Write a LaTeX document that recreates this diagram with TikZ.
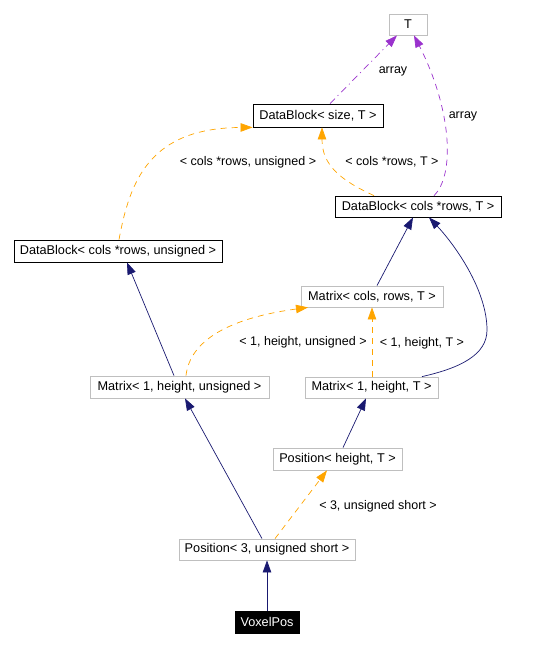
\documentclass[tikz,border=0pt]{standalone}
\usepackage{fontspec}
\setmainfont{Liberation Sans}
\usetikzlibrary{arrows.meta}
\definecolor{navyc}{HTML}{191970}
\definecolor{orangec}{HTML}{FFA500}
\definecolor{purplec}{HTML}{9A32CD}
\definecolor{greyc}{HTML}{BFBFBF}
\tikzset{
  box/.style={draw=greyc, line width=0.8pt, inner sep=0pt, fill=white, text=black, font=\fontsize{12.7}{14}\selectfont},
  blackbox/.style={box, draw=black},
  filledbox/.style={box, draw=black, fill=black, text=white},
  lbl/.style={font=\fontsize{12.5}{14}\selectfont, inner sep=0pt, text=black},
  tip/.style={-{Triangle[length=12pt,width=8.5pt]}},
  inherit/.style={tip, draw=navyc, line width=0.7pt},
  templ/.style={tip, draw=orangec, line width=0.7pt, dash pattern=on 6pt off 5pt},
  usage/.style={tip, draw=purplec, line width=0.7pt},
}
\begin{document}
\begin{tikzpicture}[x=1pt,y=-1pt]
\useasboundingbox (0,0) rectangle (536,646);
\node[box, minimum width=38pt, minimum height=21pt] (T) at (408,24.5) {T};
\node[blackbox, minimum width=130pt, minimum height=23pt] (dbs) at (318,115.5) {DataBlock< size, T >};
\node[blackbox, minimum width=166pt, minimum height=21pt] (dbt) at (418,206.5) {DataBlock< cols *rows, T >};
\node[blackbox, minimum width=208pt, minimum height=22pt] (dbu) at (118,251) {DataBlock< cols *rows, unsigned >};
\node[box, minimum width=142pt, minimum height=21pt] (mcr) at (372,296.5) {Matrix< cols, rows, T >};
\node[box, minimum width=179pt, minimum height=22pt] (m1u) at (179.5,387) {Matrix< 1, height, unsigned >};
\node[box, minimum width=133pt, minimum height=21pt] (m1t) at (371.5,387.5) {Matrix< 1, height, T >};
\node[box, minimum width=129pt, minimum height=22pt] (pht) at (337.5,459) {Position< height, T >};
\node[box, minimum width=176pt, minimum height=21pt] (p3) at (267,549.5) {Position< 3, unsigned short >};
\node[filledbox, minimum width=64pt, minimum height=22pt] (vox) at (267,622) {VoxelPos};

% inheritance
\draw[inherit] (vox.north) -- (p3.south);
\draw[inherit] ([xshift=-5pt]p3.north) -- ([xshift=5.5pt]m1u.south);
\draw[inherit] ([xshift=5.5pt]pht.north) -- ([xshift=-5.5pt]m1t.south);
\draw[inherit] ([xshift=5pt]mcr.north) -- ([xshift=-5pt]dbt.south);
\draw[inherit] ([xshift=-5.5pt]m1u.north) -- ([xshift=9pt]dbu.south);
\draw[inherit] ([xshift=50.5pt]m1t.north) .. controls (460,368) and (487,355) .. (487,330)
   .. controls (487,290) and (455,245) .. ([xshift=11pt]dbt.south);

% template instances
\draw[templ] ([xshift=8pt]p3.north) -- ([xshift=-10.5pt]pht.south);
\node[lbl] (l3u) at (378,506) {< 3, unsigned short >};
\draw[templ] (m1t.north -| mcr.south) -- (mcr.south);
\node[lbl] (l1t) at (422,343) {< 1, height, T >};
\draw[templ] ([xshift=6.5pt]m1u.north) .. controls (190,340) and (230,318) .. ([xshift=-64pt]mcr.south);
\node[lbl] (l1u) at (303,342) {< 1, height, unsigned >};
\draw[templ] ([xshift=1pt]dbu.north) .. controls (130,180) and (150,128) .. (dbs.south west);
\node[lbl] (lcu) at (248,162) {< cols *rows, unsigned >};
\draw[templ] ([xshift=-44pt]dbt.north) .. controls (340,180) and (322,165) .. ([xshift=4pt]dbs.south);
\node[lbl] (lct) at (392,162) {< cols *rows, T >};

% usage
\draw[usage, dash pattern=on 7pt off 4pt on 1pt off 4pt] ([xshift=12pt]dbs.north) -- ([xshift=-11pt]T.south);
\node[lbl] (la1) at (393,71) {array};
\draw[usage, dash pattern=on 6pt off 5pt] ([xshift=16pt]dbt.north) .. controls (455,175) and (452,110) .. ([xshift=6pt]T.south);
\node[lbl] (la2) at (463,116) {array};
\end{tikzpicture}
\end{document}
